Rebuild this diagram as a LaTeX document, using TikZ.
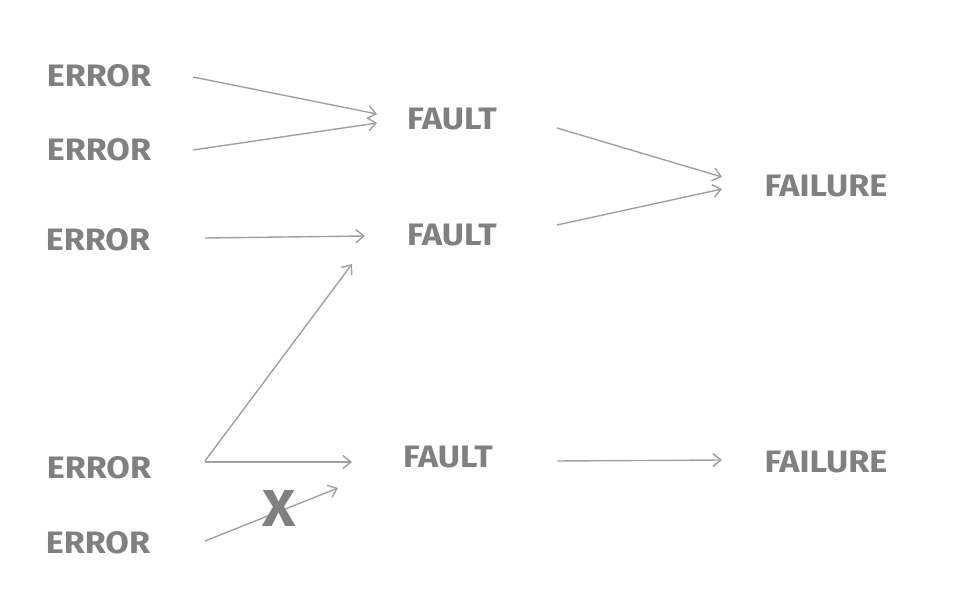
\documentclass[tikz,border=0pt]{standalone}
\usepackage{fontspec}
\setmainfont{Fira Sans}[FakeStretch=1.1]
\usetikzlibrary{arrows.meta,calc}

\definecolor{labelgray}{RGB}{128,128,128}
\definecolor{linkgray}{RGB}{160,160,160}

\begin{document}
\begin{tikzpicture}[x=1pt, y=-1pt,
    every node/.style={text=labelgray, font=\fontsize{31}{32}\selectfont\bfseries, inner sep=0pt},
    link/.style={draw=linkgray, line width=1.4pt, -{Straight Barb[length=8pt,width=13pt]}}]
    \useasboundingbox (0,0) rectangle (964,593);

    % Errors
    \node (e1) at (99,76) {ERROR};
    \node (e2) at (99,150) {ERROR};
    \node (e3) at (98,240) {ERROR};
    \node (e4) at (99,468) {ERROR};
    \node (e5) at (98,543) {ERROR};

    % Faults
    \node (f1) at (452,119) {FAULT};
    \node (f2) at (452,235) {FAULT};
    \node (f3) at (448,457) {FAULT};

    % Failures
    \node (g1) at (826,186) {FAILURE};
    \node (g2) at (826,462) {FAILURE};

    % Error -> fault
    \draw[link] ($(e1)+(94,1)$) -- ($(f1)+(-75,-5)$);
    \draw[link] ($(e2)+(94,0)$) -- ($(f1)+(-75,4)$);
    \draw[link] ($(e3)+(107,-2)$) -- ($(f2)+(-87,1)$);
    \draw[link] ($(e4)+(106,-7)$) -- ($(f2)+(-100,29)$);
    \draw[link] ($(e4)+(106,-6)$) -- ($(f3)+(-96,5)$);
    \draw[link] ($(e5)+(107,-2)$) -- ($(f3)+(-110,31)$);

    % Fault -> failure
    \draw[link] ($(f1)+(105,9)$) -- ($(g1)+(-104,-9)$);
    \draw[link] ($(f2)+(105,-10)$) -- ($(g1)+(-104,3)$);
    \draw[link] ($(f3)+(109,4)$) -- ($(g2)+(-104,-2)$);

    % Blocked path
    \node[font=\fontsize{52}{54}\selectfont\bfseries] (x) at (279,508) {X};
\end{tikzpicture}
\end{document}
